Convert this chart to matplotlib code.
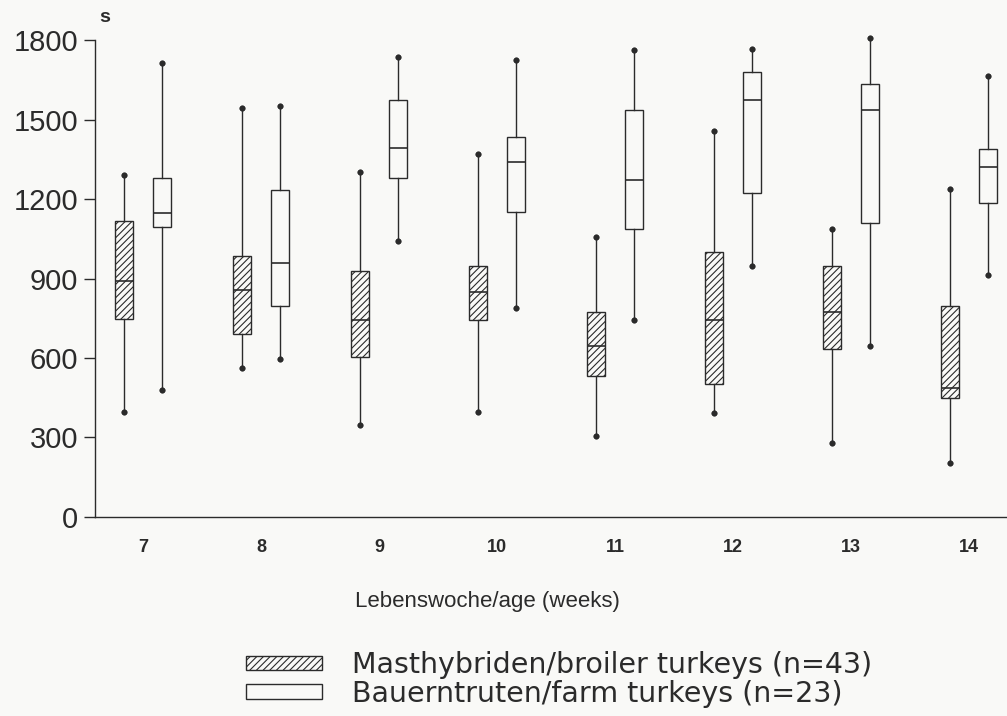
import numpy as np
import matplotlib.pyplot as plt
from matplotlib.patches import Patch

plt.rcParams['font.family'] = ['Liberation Sans', 'DejaVu Sans']
plt.rcParams['hatch.linewidth'] = 0.8

weeks = [7, 8, 9, 10, 11, 12, 13, 14]

# broiler turkeys (hatched boxes)
broiler_low = [396, 564, 346, 396, 306, 392, 281, 202]
broiler_q1 = [746, 691, 603, 742, 531, 500, 633, 449]
broiler_med = [891, 858, 742, 849, 646, 743, 773, 486]
broiler_q3 = [1116, 986, 927, 947, 774, 1000, 947, 796]
broiler_high = [1291, 1542, 1301, 1371, 1056, 1457, 1087, 1237]

# farm turkeys (open boxes)
farm_low = [478, 597, 1042, 790, 742, 947, 644, 915]
farm_q1 = [1096, 796, 1281, 1152, 1088, 1224, 1109, 1186]
farm_med = [1149, 957, 1393, 1340, 1273, 1573, 1535, 1322]
farm_q3 = [1281, 1233, 1574, 1436, 1535, 1681, 1635, 1389]
farm_high = [1713, 1552, 1737, 1726, 1763, 1768, 1808, 1664]


def make_stats(low, q1, med, q3, high):
    return [dict(whislo=a, q1=b, med=c, q3=d, whishi=e, fliers=[])
            for a, b, c, d, e in zip(low, q1, med, q3, high)]


ink = '#2b2b2b'
bg = '#f9f9f7'

fig = plt.figure(figsize=(10.07, 7.16), dpi=100, facecolor=bg)
ax = fig.add_axes([0.094, 0.278, 0.906, 0.666], facecolor=bg)

pos = np.array(weeks)
common = dict(widths=0.15, showfliers=False, patch_artist=True,
              capwidths=0.001,
              whiskerprops=dict(color=ink, linewidth=1.0),
              capprops=dict(color=ink, marker='o', markersize=3.2, linestyle='none'),
              medianprops=dict(color=ink, linewidth=1.2))

b1 = ax.bxp(make_stats(broiler_low, broiler_q1, broiler_med, broiler_q3, broiler_high),
            positions=pos - 0.16, **common)
for box in b1['boxes']:
    box.set_facecolor(bg)
    box.set_edgecolor(ink)
    box.set_hatch('/////')
    box.set_linewidth(1.0)

b2 = ax.bxp(make_stats(farm_low, farm_q1, farm_med, farm_q3, farm_high),
            positions=pos + 0.16, **common)
for box in b2['boxes']:
    box.set_facecolor(bg)
    box.set_edgecolor(ink)
    box.set_linewidth(1.0)

# the tallest whisker pokes just above the top of the axis
for parts in (b1, b2):
    for key in ('whiskers', 'caps', 'boxes', 'medians'):
        for artist in parts[key]:
            artist.set_clip_on(False)

ax.set_xlim(6.59, 14.32)
ax.set_ylim(0, 1800)
ax.set_yticks(range(0, 1801, 300))
ax.set_xticks(weeks)
ax.set_xticklabels([str(w) for w in weeks], fontsize=13, fontweight='bold', color=ink)
ax.tick_params(axis='x', length=0, pad=16)
ax.tick_params(axis='y', length=8, width=1.0, color=ink, labelsize=21, labelcolor=ink, pad=4)

for side in ['top', 'right']:
    ax.spines[side].set_visible(False)
for side in ['left', 'bottom']:
    ax.spines[side].set_color(ink)
    ax.spines[side].set_linewidth(1.0)

ax.set_xlabel('Lebenswoche/age (weeks)', fontsize=16, color=ink)
ax.xaxis.set_label_coords(0.43, -0.155)
fig.text(0.099, 0.975, 's', fontsize=14, fontweight='bold', color=ink, va='center')

handles = [Patch(facecolor=bg, edgecolor=ink, hatch='/////', linewidth=1.0),
           Patch(facecolor=bg, edgecolor=ink, linewidth=1.0)]
labels = ['Masthybriden/broiler turkeys (n=43)', 'Bauerntruten/farm turkeys (n=23)']
fig.legend(handles, labels, loc='lower left', bbox_to_anchor=(0.219, -0.024),
           frameon=False, handlelength=2.65, handleheight=0.4,
           labelspacing=0.02, handletextpad=1.05, labelcolor=ink,
           prop=dict(family='DejaVu Sans', size=20.5))

fig.savefig('out.png', dpi=100, facecolor=bg)
